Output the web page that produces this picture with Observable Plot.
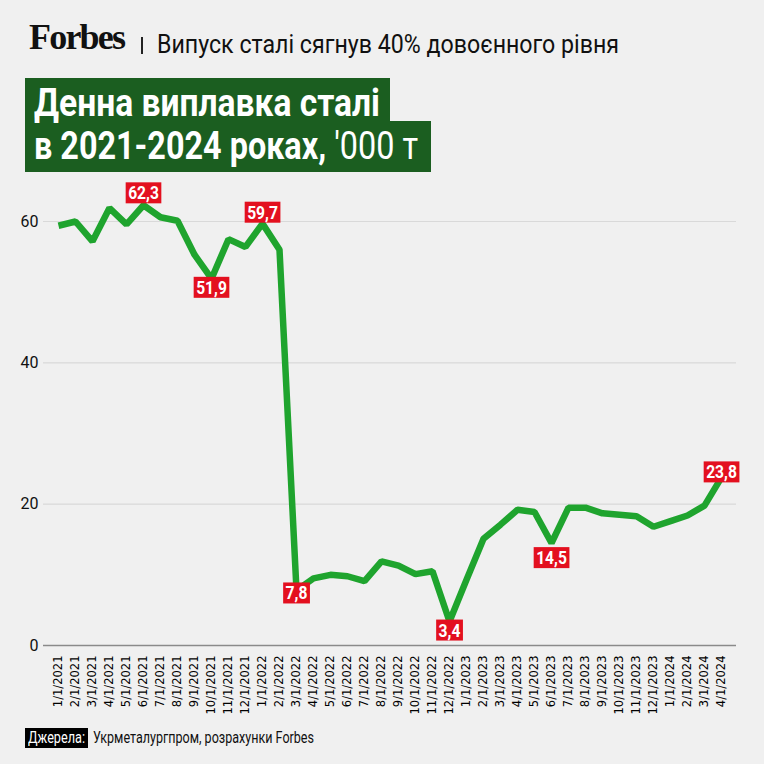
<!DOCTYPE html>
<html>
<head>
<meta charset="utf-8">
<script src="https://cdn.jsdelivr.net/npm/d3@7"></script>
<script src="https://cdn.jsdelivr.net/npm/@observablehq/plot@0.6"></script>
<style>
  html, body { margin: 0; padding: 0; background: #f0f0f0; }
  body { width: 764px; height: 764px; position: relative; overflow: hidden; font-family: "Roboto", sans-serif; }
  .fit { position: absolute; white-space: nowrap; transform-origin: 0 0; }
  .logo { position: absolute; left: 29px; top: 19px; font-family: "Liberation Serif", "DejaVu Serif", serif;
    font-weight: bold; font-size: 36px; line-height: 36px; letter-spacing: -1.8px; color: #111; }
  .sep { position: absolute; left: 141px; top: 37px; width: 2px; height: 17px; background: #222; }
  .sub { left: 157px; top: 32px; font-size: 25px; line-height: 25px; color: #111; }
  .box { position: absolute; left: 25px; background: #1b5e20; }
  .b1 { top: 78px; width: 365px; height: 44px; }
  .b2 { top: 121px; width: 406px; height: 51px; }
  .tl { left: 34px; color: #fff; font-weight: bold; font-size: 39px; line-height: 39px; }
  .t1 { top: 84px; }
  .t2 { top: 127px; }
  .t2 .light { font-weight: normal; }
  #chart { position: absolute; left: 0; top: 180px; }
  .srcbox { position: absolute; left: 25px; top: 728px; width: 63px; height: 20px; background: #000; }
  .src { left: 28px; top: 730px; font-size: 16px; line-height: 16px; color: #fff; }
  .foot { left: 93px; top: 730px; font-size: 16px; line-height: 16px; color: #111; }
</style>
</head>
<body>
<div class="logo">Forbes</div>
<div class="sep"></div>
<div class="fit sub" data-w="462">Випуск сталі сягнув 40% довоєнного рівня</div>
<div class="box b1"></div>
<div class="box b2"></div>
<div class="fit tl t1" data-w="346">Денна виплавка сталі</div>
<div class="fit tl t2" data-w="384">в 2021-2024 роках, <span class="light">'000 т</span></div>
<div id="chart"></div>
<div class="srcbox"></div>
<div class="fit src" data-w="57">Джерела:</div>
<div class="fit foot" data-w="221">Укрметалургпром, розрахунки Forbes</div>
<script>
const months = [
  "1/1/2021","2/1/2021","3/1/2021","4/1/2021","5/1/2021","6/1/2021","7/1/2021","8/1/2021","9/1/2021","10/1/2021","11/1/2021","12/1/2021",
  "1/1/2022","2/1/2022","3/1/2022","4/1/2022","5/1/2022","6/1/2022","7/1/2022","8/1/2022","9/1/2022","10/1/2022","11/1/2022","12/1/2022",
  "1/1/2023","2/1/2023","3/1/2023","4/1/2023","5/1/2023","6/1/2023","7/1/2023","8/1/2023","9/1/2023","10/1/2023","11/1/2023","12/1/2023",
  "1/1/2024","2/1/2024","3/1/2024","4/1/2024"
];
const values = [
  59.4, 60.0, 57.2, 61.9, 59.6, 62.3, 60.6, 60.1, 55.3, 51.9, 57.5, 56.4,
  59.7, 56.0, 7.8, 9.5, 10.0, 9.8, 9.1, 11.9, 11.3, 10.1, 10.5, 3.4,
  9.3, 15.1, 17.1, 19.2, 18.9, 14.5, 19.5, 19.5, 18.7, 18.5, 18.3, 16.8,
  17.6, 18.4, 19.8, 23.8
];
const labelMonths = ["6/1/2021","10/1/2021","1/1/2022","3/1/2022","12/1/2022","6/1/2023","4/1/2024"];
const yTicks = [0, 20, 40, 60];

// label vertical offsets (styling, px)
const labelDy = {"6/1/2021": -12, "10/1/2021": 9, "1/1/2022": -11, "3/1/2022": 3, "12/1/2022": 9, "6/1/2023": 15, "4/1/2024": -5};

// fit header/footer text to the reference widths (condensed look)
document.querySelectorAll(".fit").forEach(el => {
  const w = el.getBoundingClientRect().width;
  el.style.transform = `scaleX(${(+el.dataset.w) / w})`;
});

const data = months.map((m, i) => ({month: m, value: values[i]}));
const labels = labelMonths.map(m => ({month: m, value: values[months.indexOf(m)]}));
const fmt = v => v.toFixed(1).replace(".", ",");

const chart = Plot.plot({
  width: 764,
  height: 540,
  marginLeft: 43,
  marginRight: 28,
  marginTop: 41,
  marginBottom: 75,
  style: {background: "transparent", fontFamily: "Roboto, sans-serif"},
  x: {type: "point", domain: months, padding: 0.5, label: null},
  y: {domain: [0, 60], label: null},
  marks: [
    Plot.ruleY(yTicks.filter(d => d > 0), {stroke: "#d9d9d9", strokeWidth: 1.2}),
    Plot.ruleY([0], {stroke: "#8a8a8a", strokeWidth: 1.5}),
    Plot.axisY({ticks: yTicks, tickSize: 0, tickPadding: 5, fontSize: 16, fill: "#111", label: null}),
    Plot.axisX({tickSize: 0, tickRotate: -90, tickPadding: 10, fontSize: 11.5, fill: "#000",
      fontFamily: "DejaVu Sans, sans-serif", label: null}),
    Plot.lineY(data, {x: "month", y: "value", stroke: "#1fa42e", strokeWidth: 6.5, strokeLinejoin: "miter", strokeLinecap: "butt"}),
    ...labels.map(d => Plot.text([d], {x: "month", y: "value", text: e => fmt(e.value),
      dy: labelDy[d.month], fill: "#fff", fontSize: 19, fontWeight: "bold", className: "vlab"}))
  ]
});
document.getElementById("chart").appendChild(chart);

// red background boxes behind value labels, with condensed text
document.querySelectorAll("g.vlab").forEach(g => {
  g.querySelectorAll("text").forEach(t => {
    const b0 = t.getBBox();
    const tw = b0.width * 0.82;
    t.setAttribute("textLength", tw);
    t.setAttribute("lengthAdjust", "spacingAndGlyphs");
    const b = t.getBBox();
    const r = document.createElementNS("http://www.w3.org/2000/svg", "rect");
    const cx = b0.x + b0.width / 2, cy = b.y + b.height / 2;
    r.setAttribute("x", cx - tw / 2 - 2.5);
    r.setAttribute("y", cy - 10.5);
    r.setAttribute("width", tw + 5);
    r.setAttribute("height", 21);
    r.setAttribute("fill", "#e3101f");
    r.setAttribute("transform", t.getAttribute("transform") || "");
    g.insertBefore(r, t);
  });
});
</script>
</body>
</html>
